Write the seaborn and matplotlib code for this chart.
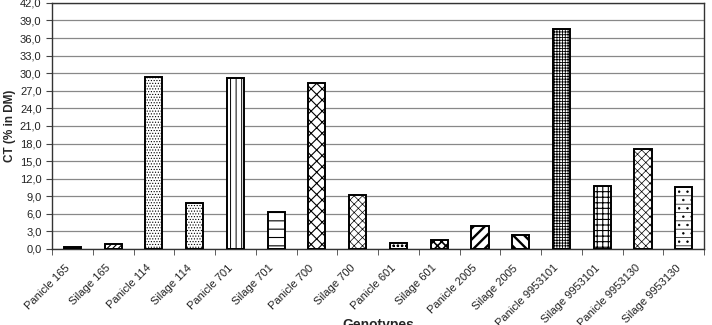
import numpy as np
import pandas as pd
import matplotlib
matplotlib.use("Agg")
import matplotlib.pyplot as plt
import matplotlib.transforms as mtransforms
import seaborn as sns
from matplotlib.ticker import FuncFormatter, MultipleLocator, FixedLocator

genotypes = ["Panicle 165", "Silage 165", "Panicle 114", "Silage 114",
             "Panicle 701", "Silage 701", "Panicle 700", "Silage 700",
             "Panicle 601", "Silage 601", "Panicle 2005", "Silage 2005",
             "Panicle 9953101", "Silage 9953101", "Panicle 9953130", "Silage 9953130"]
ct_values = [0.3, 0.9, 29.4, 7.9, 29.2, 6.3, 28.3, 9.2,
             1.1, 1.6, 3.9, 2.3, 37.5, 10.7, 17.1, 10.6]
hatches = ["", "//////", "......", "......", "|||", "--", "xxx", "xxxx",
           "oooo", "xxxx", "///", "\\\\\\", "++++++", "+++", "xxxx", "..--"]
hatch_lw = [0.6, 0.8, 0.5, 0.5, 0.7, 0.8, 0.8, 0.5,
            0.6, 1.2, 1.7, 1.7, 0.6, 0.8, 0.5, 0.5]
face = ["#333333"] + ["white"] * 15

df = pd.DataFrame({"Genotype": genotypes, "CT": ct_values})

sns.set_style("white")
plt.rcParams["font.family"] = ["Liberation Sans", "DejaVu Sans"]
plt.rcParams["hatch.linewidth"] = 0.6

fig = plt.figure(figsize=(7.12, 3.25), dpi=100)
ax = fig.add_axes([0.073, 0.234, 0.916, 0.757])

sns.barplot(data=df, x="Genotype", y="CT", color="white", width=0.42,
            edgecolor="black", linewidth=1.4, ax=ax, zorder=3)

for bar, h, fc, lw in zip(ax.patches, hatches, face, hatch_lw):
    bar.set_hatch(h)
    bar.set_facecolor(fc)
    if hasattr(bar, "set_hatch_linewidth"):
        bar.set_hatch_linewidth(lw)

ax.set_ylim(0, 42)
ax.set_xlim(-0.5, len(genotypes) - 0.5)
ax.yaxis.set_major_locator(MultipleLocator(3))
ax.yaxis.set_major_formatter(FuncFormatter(lambda v, p: f"{v:.1f}".replace(".", ",")))
ax.grid(axis="y", color="#888888", linewidth=0.9, zorder=0)
ax.set_axisbelow(True)

ax.set_xticks(range(len(genotypes)))
ax.set_xticklabels(genotypes, rotation=45, ha="right", rotation_mode="anchor",
                   fontsize=8, color="#222222")
ax.tick_params(axis="x", which="major", length=0, pad=5)
# nudge the rotated labels down-left like in the original
shift = mtransforms.ScaledTranslation(-8 / 100, -7 / 100, fig.dpi_scale_trans)
for lab in ax.get_xticklabels():
    lab.set_transform(lab.get_transform() + shift)
ax.xaxis.set_minor_locator(FixedLocator(np.arange(-0.5, len(genotypes), 1.0)))
ax.tick_params(axis="x", which="minor", length=4, direction="out", color="#444444", bottom=True)
ax.tick_params(axis="y", labelsize=8, length=4, direction="out", left=True,
               color="#444444", labelcolor="#222222")

for s in ax.spines.values():
    s.set_color("#333333")
    s.set_linewidth(1.0)

ax.set_ylabel("CT (% in DM)", fontsize=8.5, fontweight="bold", labelpad=3)
ax.set_xlabel("Genotypes", fontsize=10, fontweight="bold", labelpad=-8)

fig.savefig("out.png", dpi=100)
